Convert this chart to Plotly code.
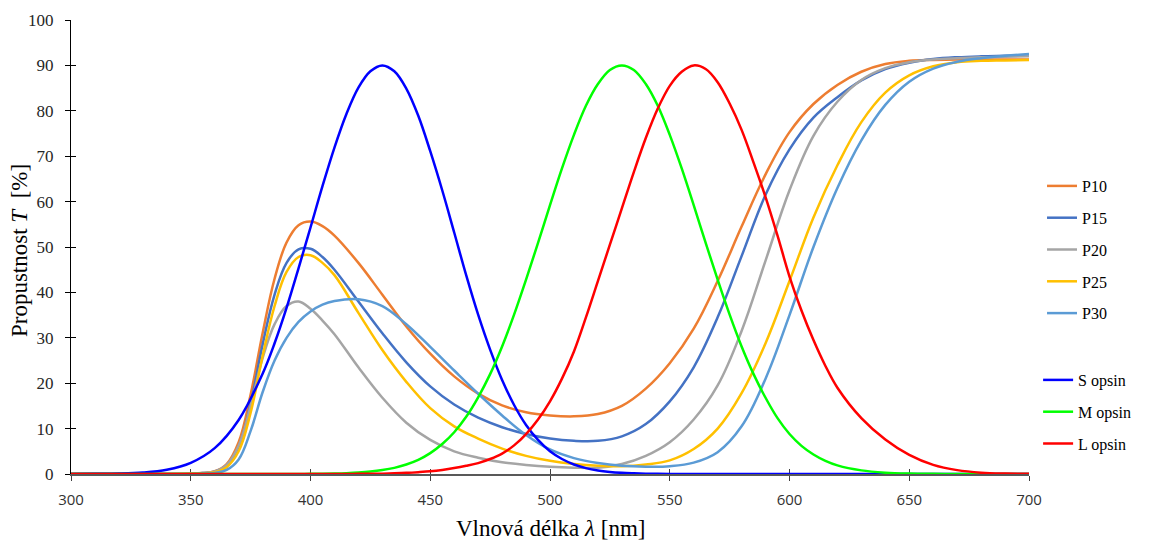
import plotly.graph_objects as go

# Wavelength grid for the filter transmission curves (finer where they rise steeply)
wl_filter = [300, 320, 340, 350, 355, 360, 365, 370, 375, 380, 385, 390, 395, 400,
             405, 410, 420, 430, 440, 450, 460, 470, 480, 490, 500, 510, 520, 530,
             540, 550, 560, 570, 580, 590, 600, 610, 620, 630, 640, 650, 660, 670,
             680, 690, 700]

# Transmission T [%] of the filters
P10 = [0, 0, 0, 0.05, 0.2, 0.6, 2.2, 7, 17.5, 31, 43, 51, 54.8, 55.6, 54.6, 52.5, 46.5,
       39.5, 32.5, 26.5, 21.5, 17.7, 15.1, 13.6, 12.9, 12.7, 13.2, 15.0, 18.8, 24.4, 32,
       42.5, 54.5, 66, 75.3, 81.5, 85.7, 88.6, 90.3, 91.0, 91.2, 91.3, 91.3, 91.3, 91.3]
P15 = [0, 0, 0, 0.05, 0.2, 0.5, 1.9, 6, 15.5, 28.5, 39.5, 46.5, 49.5, 49.6, 47.8, 45,
       38, 31, 24.6, 19.3, 15.3, 12.4, 10.3, 8.8, 7.8, 7.3, 7.3, 8.3, 11, 16, 23.5, 34.5,
       48, 61.5, 71.5, 78.5, 83, 86.7, 89.2, 90.6, 91.4, 91.8, 92.0, 92.1, 92.2]
P20 = [0, 0, 0, 0.05, 0.2, 0.55, 2.0, 6.2, 15, 25.5, 33, 37, 38, 36.4, 33.8, 30.8, 23.5,
       16.8, 11.3, 7.5, 5.0, 3.6, 2.6, 2.0, 1.6, 1.4, 1.4, 2.2, 4.0, 7.0, 12, 19.5, 31.5,
       47, 62.5, 74.5, 82, 86.8, 89.4, 90.7, 91.3, 91.6, 91.8, 91.9, 92.0]
P25 = [0, 0, 0, 0.03, 0.15, 0.4, 1.5, 5, 13.5, 26, 37, 44.5, 47.8, 48.2, 46.5, 43.8,
       35.5, 27.3, 20.3, 14.5, 10.5, 7.8, 5.6, 4.0, 2.9, 2.2, 1.8, 1.7, 2.1, 3.0, 5.5, 10,
       17.8, 28.8, 42.5, 56.5, 68, 77.5, 84, 87.8, 89.8, 90.7, 91.0, 91.1, 91.2]
P30 = [0, 0, 0, 0.02, 0.1, 0.25, 0.9, 3.2, 9.5, 18, 25, 30, 33.5, 35.8, 37.3, 38.1,
       38.5, 37, 33, 28, 22.8, 17.7, 12.9, 8.6, 5.4, 3.5, 2.4, 1.8, 1.6, 1.7, 2.5, 4.8,
       10.5, 21, 35, 50, 63, 73.5, 81.3, 86.4, 89.3, 90.8, 91.6, 92.1, 92.5]

# Wavelength grid for the cone opsin sensitivity curves:
# 10 nm steps in the tails, 5 nm steps across the three peaks
wl_opsin = ([300, 310, 320, 330, 340, 350, 360, 370]
            + list(range(380, 621, 5))
            + [630, 640, 650, 660, 670, 680, 690, 700])

S_opsin = [0, 0.03, 0.10, 0.33, 0.95, 2.47, 5.7, 11.9,
           22.1, 28.8, 36.6, 45.3, 54.3, 63.4, 71.9, 79.3, 85.1, 88.7, 90,
           88.7, 84.9, 78.9, 71.1, 62.5, 53.2, 43.8, 35.1, 27.4, 20.7, 15.2, 10.8,
           7.5, 5.0, 3.3, 2.1, 1.3, 0.77, 0.44, 0.25, 0.14, 0.07, 0.04, 0.02,
           0.01, 0, 0, 0, 0, 0, 0, 0, 0, 0, 0, 0, 0, 0,
           0, 0, 0, 0, 0, 0, 0, 0]
M_opsin = [0, 0, 0, 0, 0, 0, 0, 0,
           0, 0, 0.01, 0.019, 0.035, 0.063, 0.11, 0.19, 0.32, 0.53, 0.86, 1.35,
           2.1, 3.12, 4.6, 6.6, 9.2, 12.6, 16.9, 22.0, 28.1, 35.1, 42.8, 50.9, 59.2,
           67.3, 74.7, 81.1, 85.9, 89.0, 90,
           89.0, 85.9, 81.1, 74.7, 67.3, 59.2, 50.9, 42.8, 35.1, 28.1, 22.0, 16.8,
           12.3, 8.8, 6.2, 4.3, 2.9, 1.9,
           0.8, 0.3, 0.1, 0.03, 0.01, 0, 0, 0]
L_opsin = [0, 0, 0, 0, 0, 0, 0, 0,
           0, 0, 0, 0, 0, 0.005, 0.01, 0.02, 0.03, 0.05, 0.08, 0.15, 0.25, 0.4,
           0.6, 0.9, 1.3, 1.8, 2.4, 3.3, 4.5, 6.3, 8.8, 12, 16, 21, 27, 34.5, 42.5,
           50.5, 58.5, 66.5, 74, 80.5, 85.5, 88.6, 90, 89.2, 86.3, 81.6, 75.8, 68.6,
           61, 52.5, 43.5, 36, 29.5, 23.8, 19,
           12.3, 7.6, 4.2, 2.0, 0.85, 0.3, 0.1, 0.03]

filter_names = ["P10", "P15", "P20", "P25", "P30"]
filter_series = [P10, P15, P20, P25, P30]
filter_colors = ["#ED7D31", "#4472C4", "#A5A5A5", "#FFC000", "#5B9BD5"]

opsin_names = ["S opsin", "M opsin", "L opsin"]
opsin_series = [S_opsin, M_opsin, L_opsin]
opsin_colors = ["#0000FF", "#00FF00", "#FF0000"]

x_ticks = [300, 350, 400, 450, 500, 550, 600, 650, 700]
y_ticks = [0, 10, 20, 30, 40, 50, 60, 70, 80, 90, 100]

SERIF = "Liberation Serif, Times New Roman, serif"
SANS = "Open Sans, Verdana, sans-serif"

fig = go.Figure()

for name, ys, color in zip(filter_names, filter_series, filter_colors):
    fig.add_trace(go.Scatter(
        x=wl_filter, y=ys, name=name, mode="lines",
        line=dict(color=color, width=2.5, shape="spline", smoothing=1.1),
        legend="legend", legendgroup=name,
    ))

for name, ys, color in zip(opsin_names, opsin_series, opsin_colors):
    fig.add_trace(go.Scatter(
        x=wl_opsin, y=ys, name=name, mode="lines",
        line=dict(color=color, width=2.5, shape="spline", smoothing=1.0),
        legend="legend2", legendgroup=name,
    ))

# empty trace on the overlay axes that carry the inner half of the tick marks
fig.add_trace(go.Scatter(x=[None], y=[None], xaxis="x2", yaxis="y2",
                         showlegend=False, hoverinfo="skip"))

fig.update_layout(
    width=1149, height=542,
    margin=dict(l=71, r=120, t=20, b=68),
    paper_bgcolor="white", plot_bgcolor="white",
    showlegend=True,
    xaxis=dict(
        range=[300, 700], tickvals=x_ticks, ticks="outside", ticklen=5,
        tickcolor="#404040", tickwidth=1,
        showline=True, linecolor="#595959", linewidth=1.5,
        showgrid=False, zeroline=False, layer="below traces",
        tickfont=dict(family=SANS, size=15, color="#333333"),
        ticklabelstandoff=6,
    ),
    yaxis=dict(
        range=[0, 100], tickvals=y_ticks, ticks="outside", ticklen=5,
        tickcolor="#000000", tickwidth=1,
        showline=True, linecolor="#000000", linewidth=1,
        showgrid=False, zeroline=False, layer="below traces",
        tickfont=dict(family=SERIF, size=17, color="#262626"),
        ticklabelstandoff=8,
    ),
    xaxis2=dict(
        range=[300, 700], tickvals=x_ticks, ticks="inside", ticklen=5,
        tickcolor="#404040", showticklabels=False, showline=False,
        showgrid=False, zeroline=False, overlaying="x", anchor="y2",
        side="bottom", layer="below traces",
    ),
    yaxis2=dict(
        range=[0, 100], tickvals=y_ticks, ticks="inside", ticklen=5,
        tickcolor="#000000", showticklabels=False, showline=False,
        showgrid=False, zeroline=False, overlaying="y", anchor="x2",
        side="left", layer="below traces",
    ),
    legend=dict(
        x=1.0136, y=0.6718, xanchor="left", yanchor="top",
        font=dict(family=SERIF, size=16, color="#000000"),
        tracegroupgap=8, bgcolor="rgba(0,0,0,0)", borderwidth=0,
    ),
    legend2=dict(
        x=1.0095, y=0.2445, xanchor="left", yanchor="top",
        font=dict(family=SERIF, size=16, color="#000000"),
        tracegroupgap=8, bgcolor="rgba(0,0,0,0)", borderwidth=0,
    ),
    annotations=[
        dict(text="Propustnost <i>T</i>&nbsp;&nbsp;[%]", xref="paper", yref="paper",
             x=-0.0532, y=0.4912, xanchor="center", yanchor="middle",
             textangle=-90, showarrow=False,
             font=dict(family=SERIF, size=23, color="#000000")),
        dict(text="Vlnová délka <i>λ</i> [nm]", xref="paper", yref="paper",
             x=0.5, y=-0.119, xanchor="center", yanchor="middle",
             showarrow=False,
             font=dict(family=SERIF, size=23, color="#000000")),
    ],
)

fig.write_html("out.html")
